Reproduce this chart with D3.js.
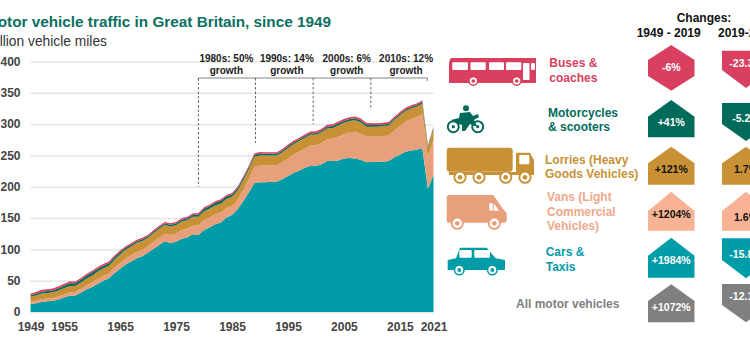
<!DOCTYPE html>
<html>
<head>
<meta charset="utf-8">
<script src="https://cdnjs.cloudflare.com/ajax/libs/d3/7.8.5/d3.min.js"></script>
<style>
  html, body { margin: 0; padding: 0; background: #fff; overflow: hidden; }
  svg { display: block; }
  text { font-family: "Liberation Sans", Arial, sans-serif; font-weight: bold; }
</style>
</head>
<body>
<svg id="chart" width="750" height="350"></svg>
<script>
// values in billion vehicle miles, 1949 to 2021
const years = d3.range(1949, 2022);
const cars = [12.5,14,16,17,18,20,23,26,26.5,31,
  36,40,45,50,54,62,69,76,81,86,89,
  95,101,107,113,110,112,117,119,124,123,
  131,135,140,143,151,155,164,177,191,206,
  207,207,208,208,212,217,222,226,230,234,
  233,236,241,241,242,245,246,245,243,239,
  240,240,240,241,247,251,256,258,259,262,
  197,219];
const vans = [4,4,4.5,4.5,4.5,5,5,5.5,5.5,6,
  6.5,7,7.5,7.5,8,8.5,9,9.5,9.5,10,10,
  10,11,12,12,13,13,14,14,14,15,
  16,16,16,16,15,14,15,18,21,26,
  27,27,26,26,27,28,29,30,31,32,
  33,34,35,36,38,39,41,43,42,41,
  40,40,41,41,43,46,48,50,52,54,
  50,56];
const lorries = [8,8.5,9,9,9,9.5,10,10,9.5,10,
  10.5,11,12,12,12,13,14,14,14,14.5,14.5,
  13.5,14,14,14,13.5,13.5,13.5,13.5,14,14,
  14,14,14,14,14.5,15,15,15.5,16,16,
  16,16,16,16,16,17,17,17,17,17,
  17,17,17,17,18,18,18,18,18,16,
  16,16,16,16,16.5,17,17,17,17,16.5,
  15,17];
const motorcycles = [2,2.5,3,3,3,3.5,4,4.5,4.5,4.5,
  5,5,4.5,4.5,4,4,3.5,3,3,2.5,2.5,
  2.5,2.5,2.5,2.5,3,3,3,3,3,3.5,
  4,4,4.5,4.5,4,3.5,3.5,3.5,3,3,
  3,2.5,2.5,2.5,2.5,2.5,2.5,2.5,2.5,2.5,
  2.5,2.5,3,3,3,3,3,3,3,3,
  2.5,2.5,2.5,2.5,2.5,2.5,2.5,2.5,2.5,2.8,
  2.2,2.2];
const buses = [2.8,2.9,3,3,3,3,3,2.9,2.8,2.8,
  2.8,2.8,2.8,2.8,2.7,2.7,2.6,2.6,2.5,2.5,2.4,
  2.4,2.4,2.4,2.4,2.4,2.4,2.4,2.4,2.4,2.4,
  2.4,2.4,2.4,2.5,2.5,2.4,2.5,2.5,2.5,2.5,
  2.6,2.6,2.7,2.7,2.7,2.8,2.8,2.8,2.9,2.9,
  3,3,3,3,3,3,3,3,3,3,
  3,2.9,2.8,2.7,2.7,2.7,2.7,2.7,2.6,2.6,
  1.6,1.6];

const yTicks = [0,50,100,150,200,250,300,350,400];
const xTicks = [1949,1955,1965,1975,1985,1995,2005,2015,2021];

const decadeEdges = [1979,1989.2,1999.5,2009.8,2019.9];
const decadeEnds = [200,270,300,325];
const decadeLabels = ["1980s: 50%","1990s: 14%","2000s: 6%","2010s: 12%"];
const decadeLabelYears = [1984,1994.8,2005.5,2016.1];

const categories = [["Buses &","coaches"],["Motorcycles","& scooters"],["Lorries (Heavy","Goods Vehicles)"],
  ["Vans (Light","Commercial","Vehicles)"],["Cars &","Taxis"],["All motor vehicles"]];
const change4919 = [-6,41,121,1204,1984,1072];
const change1920 = [-23.3,-5.2,1.7,1.6,-15.8,-12.1];

const red = "#d9405f", green = "#006b5b", ochre = "#c99135", salmon = "#e89f7b", teal = "#009ca8", grey = "#808080";
const layerColors = [teal, salmon, ochre, green, red];

const svg = d3.select("#chart");
const x = d3.scaleLinear().domain([1949,2021]).range([30.5,433.5]);
const y = d3.scaleLinear().domain([0,400]).range([312,61.5]);

// titles, the left edge is cut off in the original too
svg.append("text").attr("x",331).attr("y",27).attr("text-anchor","end")
  .attr("font-size",15.3).attr("fill","#0b6f5f").text("Motor vehicle traffic in Great Britain, since 1949");
svg.append("text").attr("x",107).attr("y",45.5).attr("text-anchor","end")
  .attr("font-size",13.8).attr("fill","#333").style("font-weight","normal").text("Billion vehicle miles");

// axes
const yAxis = svg.append("g").attr("transform","translate(30.5,0)")
  .call(d3.axisLeft(y).tickValues(yTicks).tickSize(0).tickPadding(10).tickFormat(d3.format("d")));
yAxis.select(".domain").remove();
yAxis.selectAll("text").attr("font-size",12).attr("fill","#444").style("font-family",null);
yAxis.selectAll(".tick").append("line").attr("x1",0).attr("x2",403)
  .attr("stroke","#e6e6e6").attr("stroke-width",1.5);

const xAxis = svg.append("g").attr("transform","translate(0,318)")
  .call(d3.axisBottom(x).tickValues(xTicks).tickSize(0).tickPadding(4).tickFormat(d3.format("d")));
xAxis.select(".domain").remove();
xAxis.selectAll("text").attr("font-size",12).attr("fill","#444");

// stacked areas
const rows = years.map((yr,i) => ({year:yr, cars:cars[i], vans:vans[i], lorries:lorries[i], motorcycles:motorcycles[i], buses:buses[i]}));
const stack = d3.stack().keys(["cars","vans","lorries","motorcycles","buses"]);
const area = d3.area().x(d => x(d.data.year)).y0(d => y(d[0])).y1(d => y(d[1]));
svg.append("g").selectAll("path").data(stack(rows)).enter().append("path")
  .attr("d",area).attr("fill",(d,i) => layerColors[i]);

// decade brackets
const ann = svg.append("g");
const bracketY = 78;
ann.append("path").attr("fill","none").attr("stroke","#666").attr("stroke-width",0.8)
  .attr("d",`M${x(decadeEdges[0])},${bracketY+3}V${bracketY}H${x(decadeEdges[4])}V${bracketY+3}`);
decadeEdges.slice(0,4).forEach((d,i) => {
  ann.append("line").attr("x1",x(d)).attr("x2",x(d)).attr("y1",bracketY).attr("y2",y(decadeEnds[i]))
    .attr("stroke","#666").attr("stroke-width",1).attr("stroke-dasharray","2.5,2");
  const cx = x(decadeLabelYears[i]);
  ann.append("text").attr("x",cx).attr("y",62).attr("text-anchor","middle").attr("font-size",10).attr("fill","#222").text(decadeLabels[i]);
  ann.append("text").attr("x",cx).attr("y",74).attr("text-anchor","middle").attr("font-size",10).attr("fill","#222").text("growth");
});

// right hand table headings
svg.append("text").attr("x",704).attr("y",22).attr("text-anchor","middle").attr("font-size",12).attr("fill","#111").text("Changes:");
svg.append("text").attr("x",668.7).attr("y",37).attr("text-anchor","middle").attr("font-size",12).attr("fill","#111").text("1949 - 2019");
svg.append("text").attr("x",718).attr("y",37).attr("font-size",12).attr("fill","#111").text("2019-2020");

// layout of each row of the table
const rowColors = [red,green,ochre,"#eda98a",teal,grey];
const boxColors = [red,green,ochre,"#f7b394",teal,grey];
const labelX = [549.3,548,545,547,545.7,516];
const labelY = [67,116.7,163.5,201,256,308];
const box1 = [[45,60,76,90.7],[100,116.7,null,137.3],[146.7,163.3,null,184.7],[191.7,211,null,230.7],[237.7,255.7,null,277.7],[284.3,301,null,322.3]];
const box2 = [[50.7,70,88],[103,124,141],[146.7,163.3,184.7],[191.7,211,230.7],[238.3,260,278.3],[284,305,322.3]];
const value1Y = [70.7,126,172.7,218,263.7,311];
const value2Y = [67.3,121.7,172.7,221,258,300];
const darkText = [false,false,true,true,false,false];

const fmt1 = v => (v>0 ? "+" : "") + v + "%";
const fmt2 = v => v + "%";

categories.forEach((lines,i) => {
  const g = svg.append("g");
  lines.forEach((t,j) => {
    g.append("text").attr("x",labelX[i]).attr("y",labelY[i]+j*14.6).attr("font-size",12).attr("fill",rowColors[i]).text(t);
  });

  // first column, up arrows and the hexagon for the small fall
  const b = box1[i], L = 648, R = 694.5, C = (L+R)/2;
  const p1 = change4919[i] < 0
    ? [[C,b[0]],[R,b[1]],[R,b[2]],[C,b[3]],[L,b[2]],[L,b[1]]]
    : [[C,b[0]],[R,b[1]],[R,b[3]],[L,b[3]],[L,b[1]]];
  g.append("polygon").attr("points",p1.join(" ")).attr("fill",boxColors[i]);
  g.append("text").attr("x",C).attr("y",value1Y[i]).attr("text-anchor","middle").attr("font-size",10.5)
    .attr("fill",darkText[i] ? "#111" : "#fff").text(fmt1(change4919[i]));

  // second column, runs off the right of the picture
  const c = box2[i], L2 = 722, R2 = 770, C2 = 746;
  const p2 = change1920[i] < 0
    ? [[L2,c[0]],[R2,c[0]],[R2,c[1]],[C2,c[2]],[L2,c[1]]]
    : [[C2,c[0]],[R2,c[1]],[R2,c[2]],[L2,c[2]],[L2,c[1]]];
  g.append("polygon").attr("points",p2.join(" ")).attr("fill",boxColors[i]);
  g.append("text").attr("x",C2).attr("y",value2Y[i]).attr("text-anchor","middle").attr("font-size",10.5)
    .attr("fill",darkText[i] ? "#111" : "#fff").text(fmt2(change1920[i]));
});

// icons
function wheel(g,cx,cy,r,col){
  g.append("circle").attr("cx",cx).attr("cy",cy).attr("r",r).attr("fill",col);
  g.append("circle").attr("cx",cx).attr("cy",cy).attr("r",r*0.72).attr("fill","#fff");
  g.append("circle").attr("cx",cx).attr("cy",cy).attr("r",r*0.36).attr("fill",col);
}
function whiteRect(g,a,b,w,h){
  g.append("rect").attr("x",a).attr("y",b).attr("width",w).attr("height",h).attr("rx",1).attr("fill","#fff");
}

const bus = svg.append("g");
bus.append("path").attr("fill",red).attr("d","M452,58H536V83H449V65Q449,58 452,58Z");
whiteRect(bus,452.3,62.3,15.7,7.7);
whiteRect(bus,470.5,62.3,15.2,7.7);
whiteRect(bus,489,62.3,15,7.7);
whiteRect(bus,506,62.3,15.3,7.7);
whiteRect(bus,523,63,6.5,17);
whiteRect(bus,531,63,4,7);
wheel(bus,473.3,81,5,red);
wheel(bus,516.7,81,5,red);

const moto = svg.append("g");
[453.3,477.7].forEach(cx => {
  moto.append("circle").attr("cx",cx).attr("cy",126.7).attr("r",5.5).attr("fill","none").attr("stroke",green).attr("stroke-width",2);
  moto.append("circle").attr("cx",cx).attr("cy",126.7).attr("r",1.6).attr("fill",green);
});
moto.append("circle").attr("cx",466).attr("cy",108.3).attr("r",3).attr("fill",green);
moto.append("path").attr("fill",green)
  .attr("d","M460,113L470,112L473,116L478,114L479,117L474,120L477,126L474,126L470,124L465,131L462,131L462,125L456,123L451,120L459,118Z");

const lorry = svg.append("g");
lorry.append("rect").attr("x",446.7).attr("y",147.7).attr("width",66).attr("height",24).attr("rx",3).attr("fill",ochre);
lorry.append("path").attr("fill",ochre).attr("d","M516,152.7H530L534,160V175H449V172H516Z");
whiteRect(lorry,519.3,155,10,9.3);
[460,479,505.7,525].forEach(cx => wheel(lorry,cx,177.3,6.5,ochre));

const van = svg.append("g");
van.append("path").attr("fill",salmon).attr("d","M449,195H493.3L503,209L506.7,213V220Q506.7,222.7 504,222.7H449Q446.7,222.7 446.7,220V197Q446.7,195 449,195Z");
whiteRect(van,489.3,203.3,3.4,7.4);
van.append("path").attr("fill","#fff").attr("d","M493.7,203.3L499,210.7H493.7Z");
wheel(van,457.3,223.3,6.5,salmon);
wheel(van,494.3,223.3,6.5,salmon);

const car = svg.append("g");
car.append("path").attr("fill",teal).attr("d","M460,247.7H486.7L495.7,258.3L505,260V270H447.7V260L456,258.3Z");
whiteRect(car,459.3,250,12.4,7.7);
whiteRect(car,474.3,250,15.7,7.7);
wheel(car,459.3,270,5.5,teal);
wheel(car,492.3,270,5.5,teal);
</script>
</body>
</html>
